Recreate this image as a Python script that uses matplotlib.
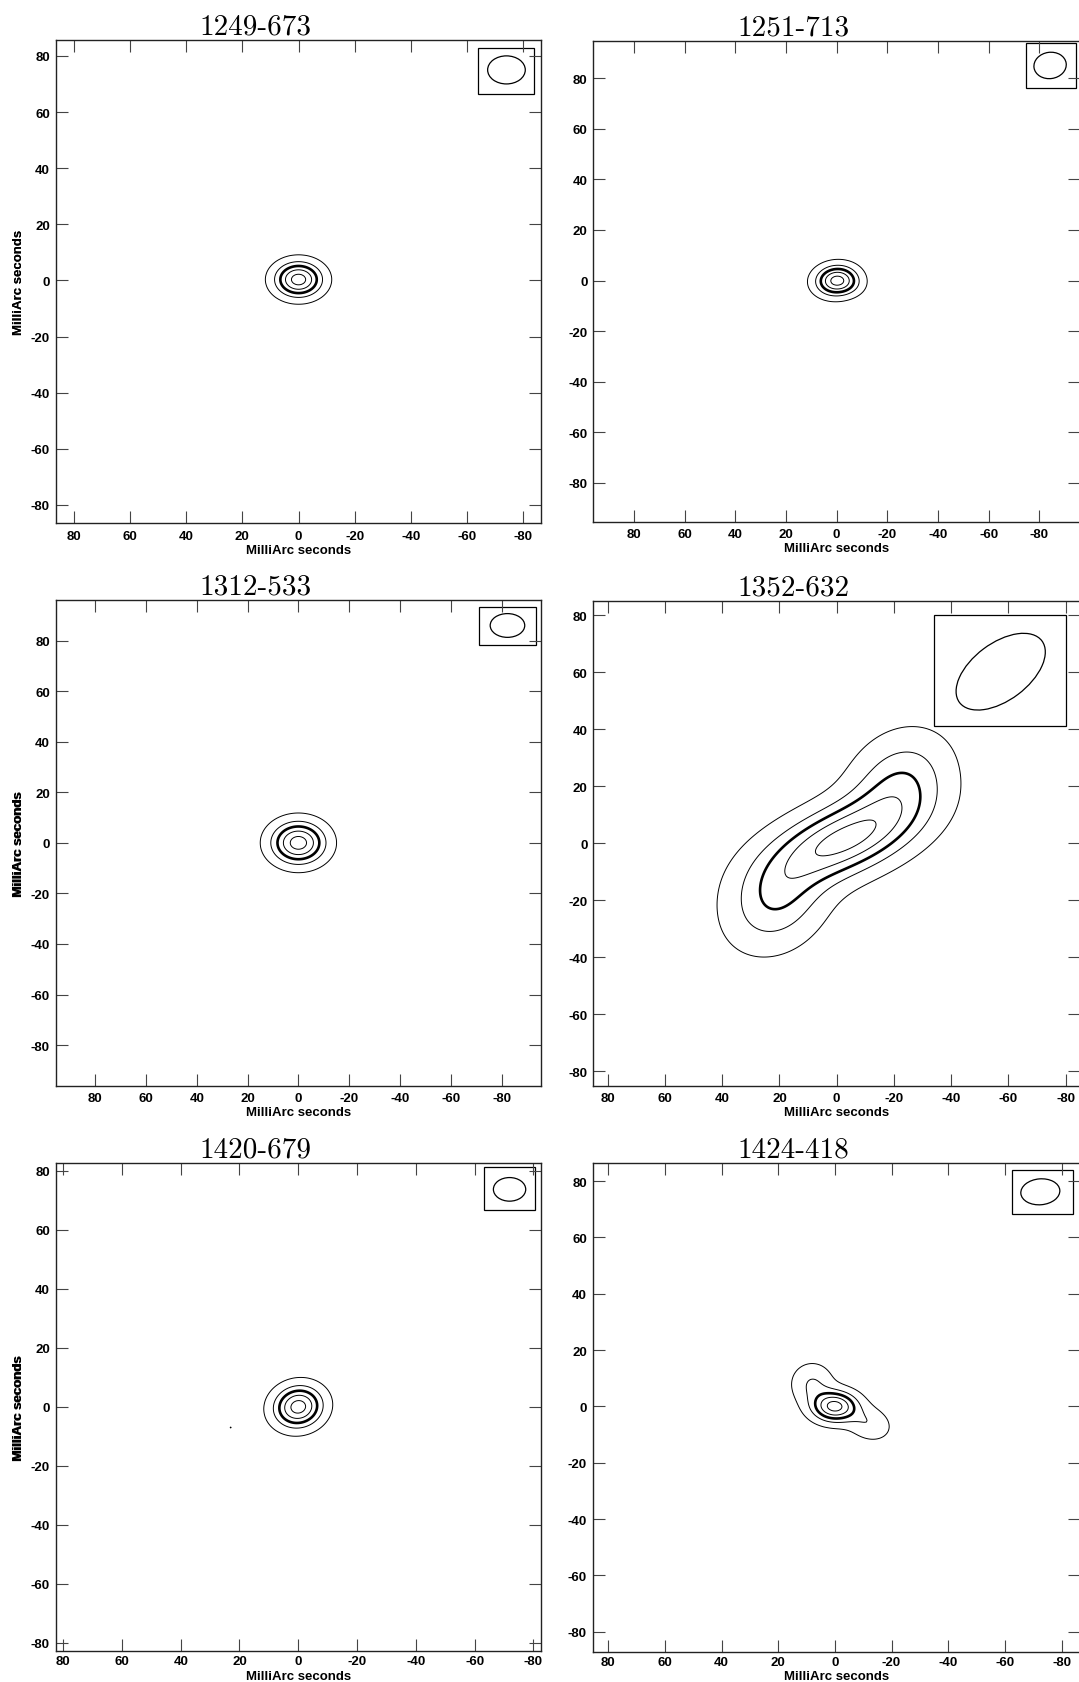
import numpy as np
import matplotlib
matplotlib.use('Agg')
import matplotlib.pyplot as plt
from matplotlib.patches import Rectangle, Ellipse

plt.rcParams['font.family'] = ['Liberation Sans', 'DejaVu Sans']
plt.rcParams['font.weight'] = 'bold'
plt.rcParams['axes.unicode_minus'] = False

# ---- datos de las fuentes ----
names = ['1249-673', '1251-713', '1312-533', '1352-632', '1420-679', '1424-418']

# limites de cada panel (x va invertido)
xlims = [(86.4, -86.4), (96, -96), (95.5, -95.5), (85, -85), (82.5, -82.7), (85.5, -86.5)]
ylims = [(-86.6, 85.8), (-95.4, 94.7), (-96, 96), (-85, 85), (-82.6, 82.7), (-87, 86.5)]

# componentes gaussianas: (x0, y0, amplitud, sigma_mayor, sigma_menor, angulo)
comps = [
    [(0, 0.3, 1.0, 5.5, 4.1, 0)],
    [(0, 0, 1.0, 5.4, 3.9, 5), (-6, -2, 0.08, 4, 3, 0)],
    [(0, 0, 1.0, 7.0, 5.5, 0)],
    [(-2, 1, 1.0, 17.5, 8, 22), (-22, 21, 0.5, 12.5, 10, 45), (21, -20, 0.5, 12.5, 10, 45)],
    [(0, 0, 1.0, 5.5, 4.6, 12), (23, -7, 0.11, 0.6, 0.6, 0)],
    [(0, 0, 1.0, 5.3, 3.6, 0), (8, 8, 0.32, 4.8, 4.8, 0), (-12, -6, 0.28, 5.2, 3.8, -20)],
]

niveles = [0.1, 0.3, 0.5, 0.7, 0.9]
grosores = [0.7, 0.7, 1.9, 0.7, 0.7]

# caja del haz (x1, x2, y1, y2) y elipse (cx, cy, ancho, alto, angulo)
cajas = [(-64, -83.9, 66.3, 82.9), (-74.7, -94.6, 76.2, 93.7), (-71.2, -93.4, 78.3, 93.2),
         (-34, -80, 41, 80), (-63.3, -80.7, 66.8, 81.4), (-62.6, -84, 68.2, 83.8)]
haces = [(-74, 75, 13.4, 10, 0), (-84.2, 85, 12.8, 10.4, -8), (-82.3, 86, 13.6, 9.4, 0),
         (-57.3, 60.2, 36, 20, 143), (-71.9, 73.7, 11, 8, 0), (-72.5, 76.2, 13.8, 9.2, -5)]

ticks = [-80, -60, -40, -20, 0, 20, 40, 60, 80]

# posiciones en pixeles (izq, der, arriba, abajo)
pos = [(55.8, 541.3, 40.6, 524.4), (593.3, 1080, 41.9, 522.9),
       (55.8, 541, 601.2, 1086.5), (593.3, 1080, 602, 1086.5),
       (55.8, 541.3, 1163.8, 1651.6), (592.6, 1080, 1163.8, 1652.5)]
titulo_x = [255, 793, 255, 793, 255, 793]
sep_xlabel = [20.5, 20.5, 20.5, 20.5, 19.5, 19.0]
pad_x = [4.5, 4.5, 4.5, 4.5, 3.5, 3.5]

W, H = 1079, 1683
fig = plt.figure(figsize=(W / 100, H / 100), dpi=100)

x = np.linspace(-110, 110, 441)
X, Y = np.meshgrid(x, x)


def gauss(x0, y0, amp, smaj, smin, ang):
    u = -(X - x0)
    v = Y - y0
    t = np.deg2rad(ang)
    a = u * np.cos(t) + v * np.sin(t)
    b = -u * np.sin(t) + v * np.cos(t)
    return amp * np.exp(-(a ** 2 / (2 * smaj ** 2) + b ** 2 / (2 * smin ** 2)))


for i in range(6):
    l, r, t, b = pos[i]
    ax = fig.add_axes([l / W, 1 - b / H, (r - l) / W, (b - t) / H])
    Z = sum(gauss(*c) for c in comps[i])
    Z = Z / Z.max()
    ax.contour(X, Y, Z, levels=niveles, colors='black', linewidths=grosores)

    x1, x2, y1, y2 = cajas[i]
    ax.add_patch(Rectangle((x2, y1), x1 - x2, y2 - y1, fill=False, ec='black', lw=0.9))
    cx, cy, ew, eh, ea = haces[i]
    ax.add_patch(Ellipse((cx, cy), ew, eh, angle=ea, fill=False, ec='black', lw=0.9))

    ax.set_xlim(xlims[i])
    ax.set_ylim(ylims[i])
    ax.set_xticks(ticks)
    ax.set_yticks(ticks)
    ax.tick_params(direction='in', length=8.6, width=0.8, color='#444444',
                   top=True, right=True, labelsize=9.5)
    ax.tick_params(axis='x', pad=pad_x[i])
    ax.tick_params(axis='y', pad=4.2)
    for s in ax.spines.values():
        s.set_linewidth(1.0)
        s.set_color('#222222')
    ax.set_xlabel('MilliArc seconds', fontsize=9.5, fontweight='bold')
    ax.set_ylabel('MilliArc seconds', fontsize=9.5, fontweight='bold')
    ax.xaxis.set_label_coords(0.5, -sep_xlabel[i] / (b - t))
    ax.yaxis.set_label_coords((25.0 - l) / (r - l), 0.5)

    fig.text(titulo_x[i] / W, 1 - (t - 6.5) / H, names[i], fontsize=21,
             family=['cmr10', 'DejaVu Serif'], fontweight='normal', ha='center', va='baseline')

fig.savefig('out.png', dpi=100)
